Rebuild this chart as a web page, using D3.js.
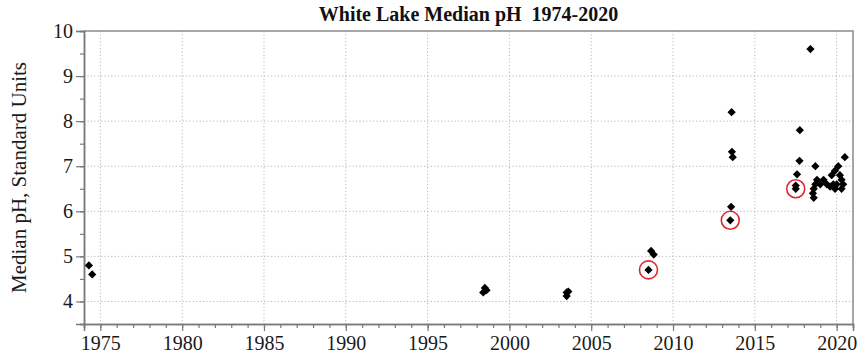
<!DOCTYPE html>
<html lang="en">
<head>
    <meta charset="UTF-8">
    <title>White Lake Median pH 1974-2020</title>
    <style>
        body, html {
            margin: 0;
            padding: 0;
            background: #fff;
            overflow: hidden;
        }
        .grid line {
            stroke: #b8b8b8;
            stroke-dasharray: 1.2, 2.2;
        }
    </style>
</head>
<body>
<div id="chart"></div>

<script src="https://d3js.org/d3.v7.min.js"></script>
<script>
    // sampling year (decimal) and median pH
    const years = [
        1974.3, 1974.5,
        1998.5, 1998.6, 1998.4,
        2003.5, 2003.6, 2003.5,
        2008.5, 2008.66, 2008.82,
        2013.5, 2013.55, 2013.6, 2013.65, 2013.58,
        2017.5, 2017.5, 2017.58, 2017.73, 2017.75,
        2018.4,
        2018.6, 2018.55, 2018.6, 2018.7, 2018.8, 2018.7,
        2019.0, 2019.2, 2019.4, 2019.6, 2019.8, 2019.9, 2020.0,
        2019.7, 2019.9, 2020.1, 2020.2, 2020.3, 2020.4, 2020.5, 2020.3
    ];
    const ph = [
        4.8, 4.6,
        4.3, 4.25, 4.2,
        4.2, 4.22, 4.12,
        4.7, 5.12, 5.04,
        5.8, 6.1, 7.32, 7.2, 8.2,
        6.5, 6.57, 6.82, 7.12, 7.8,
        9.6,
        6.3, 6.4, 6.5, 6.6, 6.7, 7.0,
        6.6, 6.7, 6.6, 6.55, 6.6, 6.5, 6.6,
        6.8, 6.9, 7.0, 6.8, 6.7, 6.6, 7.2, 6.5
    ];
    // samples marked with a red circle
    const circledYears = [2008.5, 2013.5, 2017.5];
    const circledPh = [4.7, 5.8, 6.5];

    const xTicks = [1975, 1980, 1985, 1990, 1995, 2000, 2005, 2010, 2015, 2020];
    const yTicks = [4, 5, 6, 7, 8, 9, 10];

    const serif = "'Liberation Serif', 'Times New Roman', serif";
    const width = 857, height = 353;
    const margin = {top: 31, right: 4, bottom: 29, left: 84};

    const svg = d3.select("#chart").append("svg")
        .attr("width", width)
        .attr("height", height);

    const x = d3.scaleLinear().domain([1974, 2021]).range([margin.left, width - margin.right]);
    const y = d3.scaleLinear().domain([3.5, 10]).range([height - margin.bottom, margin.top]);

    // gridlines
    const grid = svg.append("g").attr("class", "grid");
    grid.selectAll(".gx").data(xTicks).enter().append("line")
        .attr("x1", d => x(d)).attr("x2", d => x(d))
        .attr("y1", y.range()[1]).attr("y2", y.range()[0]);
    grid.selectAll(".gy").data(yTicks.filter(d => d < 10)).enter().append("line")
        .attr("x1", x.range()[0]).attr("x2", x.range()[1])
        .attr("y1", d => y(d)).attr("y2", d => y(d));

    // frame (top and right)
    svg.append("path")
        .attr("d", `M${x.range()[0]},${y.range()[1]}H${x.range()[1]}V${y.range()[0]}`)
        .attr("fill", "none")
        .attr("stroke", "#8a8a8a")
        .attr("stroke-width", 1.5);

    // minor ticks
    const minorX = d3.axisBottom(x).tickValues(d3.range(1974, 2022)).tickSize(4).tickFormat("");
    const minorY = d3.axisLeft(y).tickValues(d3.range(3.5, 10.01, 0.5)).tickSize(4).tickFormat("");

    const xAxis = d3.axisBottom(x).tickValues(xTicks).tickSize(7).tickPadding(5).tickFormat(d3.format("d"));
    const yAxis = d3.axisLeft(y).tickValues(yTicks).tickSize(8).tickPadding(3).tickFormat(d3.format("d"));

    function styleAxis(g) {
        g.attr("font-family", serif).attr("font-size", 20);
        g.select(".domain").attr("stroke", "#7a7a7a").attr("stroke-width", 1.5);
        g.selectAll(".tick line").attr("stroke", "#7a7a7a").attr("stroke-width", 1.2);
        g.selectAll(".tick text")
            .attr("fill", "#1a1a1a")
            .attr("font-family", serif)
            .attr("font-size", 20);
    }

    svg.append("g").attr("transform", `translate(0,${y.range()[0]})`).call(minorX).call(styleAxis);
    svg.append("g").attr("transform", `translate(${x.range()[0]},0)`).call(minorY).call(styleAxis);
    svg.append("g").attr("transform", `translate(0,${y.range()[0]})`).call(xAxis).call(styleAxis);
    svg.append("g").attr("transform", `translate(${x.range()[0]},0)`).call(yAxis).call(styleAxis);

    // points
    const diamond = d3.symbol().type(d3.symbolSquare).size(34);
    svg.append("g").selectAll("path")
        .data(years.map((yr, i) => [yr, ph[i]]))
        .enter().append("path")
        .attr("d", diamond)
        .attr("transform", d => `translate(${x(d[0])},${y(d[1])}) rotate(45)`)
        .attr("fill", "#000");

    // red circles
    svg.append("g").selectAll("circle")
        .data(circledYears.map((yr, i) => [yr, circledPh[i]]))
        .enter().append("circle")
        .attr("cx", d => x(d[0]))
        .attr("cy", d => y(d[1]))
        .attr("r", 9)
        .attr("fill", "none")
        .attr("stroke", "#e0262e")
        .attr("stroke-width", 1.6);

    // title
    svg.append("text")
        .attr("x", (x.range()[0] + x.range()[1]) / 2)
        .attr("y", 21)
        .attr("text-anchor", "middle")
        .attr("font-family", serif)
        .attr("font-size", 20)
        .attr("font-weight", "bold")
        .attr("fill", "#111")
        .style("white-space", "pre")
        .text("White Lake Median pH\u00a0\u00a01974-2020");

    // y axis label
    svg.append("text")
        .attr("transform", `translate(26,${(y.range()[0] + y.range()[1]) / 2}) rotate(-90)`)
        .attr("text-anchor", "middle")
        .attr("font-family", serif)
        .attr("font-size", 21)
        .attr("fill", "#1a1a1a")
        .text("Median pH, Standard Units");
</script>
</body>
</html>
